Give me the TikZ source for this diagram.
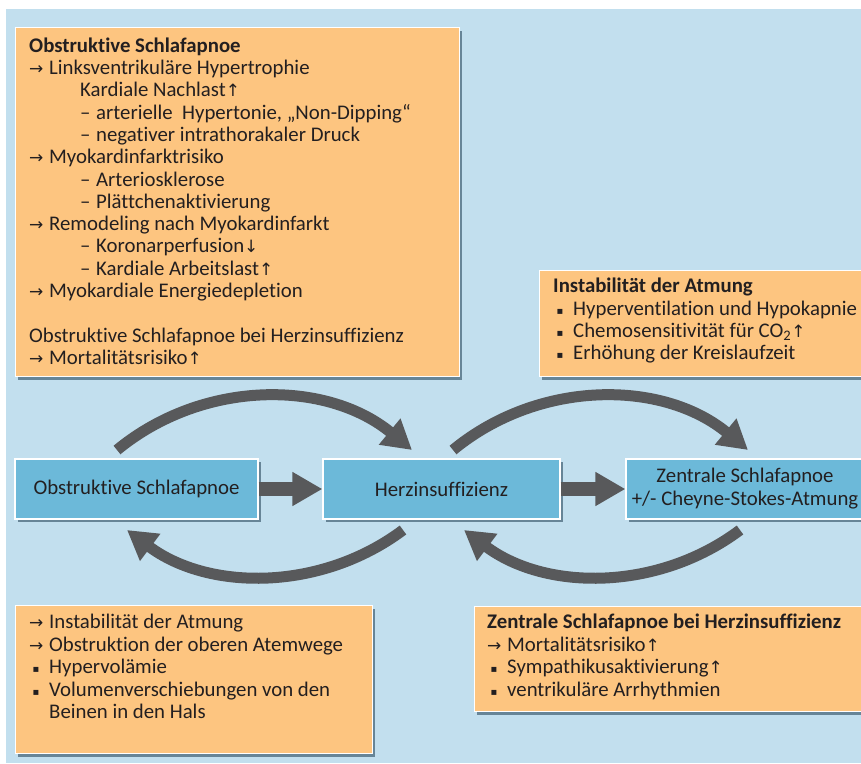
\documentclass[tikz,border=0pt]{standalone}
\usepackage{fontspec}
\setmainfont{Carlito}[Ligatures=NoCommon]
\newfontfamily\symf{DejaVu Sans}
\usetikzlibrary{arrows.meta,shadows}
\definecolor{bgblue}{RGB}{194,223,238}
\definecolor{boxorange}{RGB}{253,197,128}
\definecolor{boxblue}{RGB}{108,185,217}
\definecolor{arrowgray}{RGB}{88,89,91}
\definecolor{txtc}{RGB}{35,31,32}
\definecolor{shadowc}{RGB}{88,118,136}
\newcommand{\body}{\fontsize{20.8}{24}\selectfont}
\newcommand{\ra}{\makebox[20pt][l]{\symf\fontsize{17}{17}\selectfont →}}
\newcommand{\sq}{\makebox[20pt][l]{\hspace{3.5pt}\raisebox{1pt}{\symf\fontsize{10}{10}\selectfont ▪}}}
\newcommand{\up}{{\symf\fontsize{17}{17}\selectfont ↑}}
\newcommand{\dn}{{\symf\fontsize{17}{17}\selectfont ↓}}
\newcommand{\dash}{\makebox[16pt][l]{–}}
\tikzset{
  obox/.style={draw=white, line width=1.2pt, fill=boxorange, anchor=north west, inner sep=0pt,
    drop shadow={shadow xshift=2.5pt, shadow yshift=-3pt, fill=shadowc, opacity=0.85}},
  bbox/.style={draw=white, line width=1.2pt, fill=boxblue, inner sep=0pt, minimum height=60pt,
    align=center, text=txtc, font=\fontsize{20.8}{23}\selectfont,
    drop shadow={shadow xshift=2.5pt, shadow yshift=-3pt, fill=shadowc, opacity=0.85}},
  ln/.style={anchor=base west, inner sep=0pt, text=txtc, font=\body},
  curv/.style={draw=arrowgray, line width=11pt, -{Triangle[length=29pt, width=32pt]}},
  strt/.style={draw=arrowgray, line width=13.5pt, -{Triangle[length=30pt, width=32pt]}}
}
\begin{document}
\begin{tikzpicture}[x=1pt, y=-1pt]
\useasboundingbox (0,0) rectangle (861,763);
\fill[bgblue] (6,9) rectangle (861,763);

% orange boxes
\node[obox, minimum width=444pt, minimum height=349pt] (boxA) at (15,27) {};
\node[obox, minimum width=340pt, minimum height=106pt] (boxB) at (539,270) {};
\node[obox, minimum width=357pt, minimum height=148pt] (boxC) at (15,605) {};
\node[obox, minimum width=400pt, minimum height=105pt] (boxD) at (474,606) {};

% text of box A
\node[ln] (a1) at (29,52) {\bfseries Obstruktive Schlafapnoe};
\node[ln] (a2) at (29,74) {\ra Linksventrikuläre Hypertrophie};
\node[ln] (a3) at (80,96) {Kardiale Nachlast\up};
\node[ln] (a4) at (80,119) {\dash arterielle\ \ Hypertonie, „Non-Dipping“};
\node[ln] (a5) at (80,141) {\dash negativer intrathorakaler Druck};
\node[ln] (a6) at (29,163) {\ra Myokardinfarktrisiko};
\node[ln] (a7) at (80,186) {\dash Arteriosklerose};
\node[ln] (a8) at (80,208) {\dash Plättchenaktivierung};
\node[ln] (a9) at (29,230) {\ra Remodeling nach Myokardinfarkt};
\node[ln] (a10) at (80,252) {\dash Koronarperfusion\dn};
\node[ln] (a11) at (80,275) {\dash Kardiale Arbeitslast\up};
\node[ln] (a12) at (29,297) {\ra Myokardiale Energiedepletion};
\node[ln] (a13) at (29,342) {Obstruktive Schlafapnoe bei Herzinsuffizienz};
\node[ln] (a14) at (29,364) {\ra Mortalitätsrisiko\up};

% text of box B
\node[ln] (b1) at (553,292) {\bfseries Instabilität der Atmung};
\node[ln] (b2) at (553,315) {\sq Hyperventilation und Hypokapnie};
\node[ln] (b3) at (553,337) {\sq Chemosensitivität für CO\textsubscript{2}\up};
\node[ln] (b4) at (553,359) {\sq Erhöhung der Kreislaufzeit};

% text of box C
\node[ln] (c1) at (29,628) {\ra Instabilität der Atmung};
\node[ln] (c2) at (29,651) {\ra Obstruktion der oberen Atemwege};
\node[ln] (c3) at (29,673) {\sq Hypervolämie};
\node[ln] (c4) at (29,696) {\sq Volumenverschiebungen von den};
\node[ln] (c5) at (49,718) {Beinen in den Hals};

% text of box D
\node[ln] (d1) at (487,628) {\bfseries Zentrale Schlafapnoe bei Herzinsuffizienz};
\node[ln] (d2) at (487,651) {\ra Mortalitätsrisiko\up};
\node[ln] (d3) at (487,673) {\sq Sympathikusaktivierung\up};
\node[ln] (d4) at (487,696) {\sq ventrikuläre Arrhythmien};

% blue boxes
\node[bbox, minimum width=243pt] (osa) at (136.5,489) {Obstruktive Schlafapnoe};
\node[bbox, minimum width=237pt] (hi) at (441.5,489) {Herzinsuffizienz};
\node[bbox, minimum width=238pt] (zsa) at (745,489) {Zentrale Schlafapnoe\\+/- Cheyne-Stokes-Atmung};

% straight arrows
\draw[strt] (osa.east) -- (hi.west);
\draw[strt] (hi.east) -- (zsa.west);

% curved arrows
\coordinate (t1s) at (117,450);
\coordinate (t1e) at (412,450);
\coordinate (t2s) at (453,450);
\coordinate (t2e) at (748,450);
\coordinate (b1s) at (403,530);
\coordinate (b1e) at (127,530);
\coordinate (b2s) at (740,530);
\coordinate (b2e) at (464,530);
\draw[curv] (t1s) .. controls (202.7,379.4) and (326.3,379.4) .. (t1e);
\draw[curv] (t2s) .. controls (538.7,379.4) and (662.3,379.4) .. (t2e);
\draw[curv] (b1s) .. controls (321.2,591.3) and (208.8,591.3) .. (b1e);
\draw[curv] (b2s) .. controls (658.2,591.3) and (545.8,591.3) .. (b2e);
\end{tikzpicture}
\end{document}
